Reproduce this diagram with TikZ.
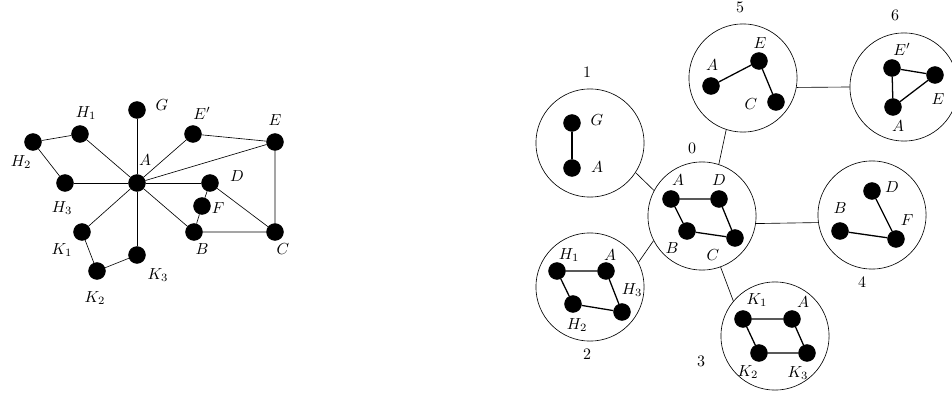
\documentclass[tikz,border=0pt]{standalone}
\usepackage{amsmath,amssymb,amsfonts}
\usepackage{tikz}
\usepackage{xcolor}

\tikzset{
  vtx/.style={draw, circle, fill=black, inner sep=0pt, minimum size=0.37cm},
  grp/.style={draw, circle, inner sep=0pt, minimum size=2.38cm},
  lbl/.style={inner sep=0pt},
  ed/.style={thick}
}

\begin{document}
\begin{tikzpicture}[x=0.022cm,y=-0.022cm]
\useasboundingbox (0,0) rectangle (952,398);

% left graph
\node[vtx] (A) at (137,183) {};
\node[vtx] (G) at (137,110) {};
\node[vtx] (H1) at (80,134) {};
\node[vtx] (H2) at (33,142) {};
\node[vtx] (H3) at (65,183) {};
\node[vtx] (Ep) at (193,134) {};
\node[vtx] (E) at (275,142) {};
\node[vtx] (D) at (210,183) {};
\node[vtx] (F) at (202,206) {};
\node[vtx] (B) at (194,232) {};
\node[vtx] (C) at (275,232) {};
\node[vtx] (K1) at (82,232) {};
\node[vtx] (K2) at (97,271) {};
\node[vtx] (K3) at (137,255) {};

\node[lbl] (lA) at (145,160) {$A$};
\node[lbl] (lG) at (162,105) {$G$};
\node[lbl] (lH1) at (86,113) {$H_1$};
\node[lbl] (lH2) at (21,162) {$H_2$};
\node[lbl] (lH3) at (62,208) {$H_3$};
\node[lbl] (lEp) at (202,113) {$E'$};
\node[lbl] (lE) at (275,120) {$E$};
\node[lbl] (lD) at (237,176) {$D$};
\node[lbl] (lF) at (218,208) {$F$};
\node[lbl] (lB) at (202,249) {$B$};
\node[lbl] (lC) at (283,249) {$C$};
\node[lbl] (lK1) at (62,250) {$K_1$};
\node[lbl] (lK2) at (95,298) {$K_2$};
\node[lbl] (lK3) at (158,275) {$K_3$};

\draw (A) -- (G);
\draw (A) -- (H1);
\draw (A) -- (H3);
\draw (A) -- (Ep);
\draw (A) -- (E);
\draw (A) -- (D);
\draw (A) -- (B);
\draw (A) -- (K1);
\draw (A) -- (K3);
\draw (H1) -- (H2) -- (H3);
\draw (K1) -- (K2) -- (K3);
\draw (Ep) -- (E) -- (C);
\draw (D) -- (F) -- (B) -- (C) -- (D);

% right tree of blocks
\node[grp] (g0) at (702,216) {};
\node[grp] (g1) at (590,143) {};
\node[grp] (g2) at (590,287) {};
\node[grp] (g3) at (775,336) {};
\node[grp] (g4) at (872,215) {};
\node[grp] (g5) at (743,78) {};
\node[grp] (g6) at (904,87) {};

\node[lbl] (n0) at (692,148) {$0$};
\node[lbl] (n1) at (587,72) {$1$};
\node[lbl] (n2) at (587,354) {$2$};
\node[lbl] (n3) at (701,361) {$3$};
\node[lbl] (n4) at (862,282) {$4$};
\node[lbl] (n5) at (740,7) {$5$};
\node[lbl] (n6) at (895,15) {$6$};

\draw (g1.-33) -- (g0.152);
\draw (g2.27) -- (g0.207);
\draw (g0.-70) -- (g3.140);
\draw (g0.-8) -- (g4.188);
\draw (g0.72) -- (g5.-108);
\draw (g5.-10) -- (g6.west);

% block 0
\node[vtx] (a0) at (671,199) {};
\node[vtx] (d0) at (719,199) {};
\node[vtx] (b0) at (687,231) {};
\node[vtx] (c0) at (735,238) {};
\node[lbl] at (678,180) {$A$};
\node[lbl] at (719,180) {$D$};
\node[lbl] at (672,248) {$B$};
\node[lbl] at (713,255) {$C$};
\draw[ed] (a0) -- (d0) -- (c0) -- (b0) -- (a0);

% block 1
\node[vtx] (g1v) at (572,123) {};
\node[vtx] (a1) at (572,168) {};
\node[lbl] at (597,120) {$G$};
\node[lbl] at (597,167) {$A$};
\draw[ed] (g1v) -- (a1);

% block 2
\node[vtx] (h12) at (557,271) {};
\node[vtx] (a2) at (606,271) {};
\node[vtx] (h22) at (573,304) {};
\node[vtx] (h32) at (622,312) {};
\node[lbl] at (569,255) {$H_1$};
\node[lbl] at (610,255) {$A$};
\node[lbl] at (632,290) {$H_3$};
\node[lbl] at (577,325) {$H_2$};
\draw[ed] (h12) -- (a2) -- (h32) -- (h22) -- (h12);

% block 3
\node[vtx] (k13) at (743,319) {};
\node[vtx] (a3) at (792,319) {};
\node[vtx] (k23) at (759,353) {};
\node[vtx] (k33) at (807,353) {};
\node[lbl] at (757,300) {$K_1$};
\node[lbl] at (803,302) {$A$};
\node[lbl] at (748,372) {$K_2$};
\node[lbl] at (798,373) {$K_3$};
\draw[ed] (k13) -- (a3) -- (k33) -- (k23) -- (k13);

% block 4
\node[vtx] (d4) at (872,191) {};
\node[vtx] (b4) at (840,231) {};
\node[vtx] (f4) at (896,239) {};
\node[lbl] at (892,187) {$D$};
\node[lbl] at (840,208) {$B$};
\node[lbl] at (907,220) {$F$};
\draw[ed] (d4) -- (f4) -- (b4);

% block 5
\node[vtx] (a5) at (711,86) {};
\node[vtx] (e5) at (759,61) {};
\node[vtx] (c5) at (776,102) {};
\node[lbl] at (712,65) {$A$};
\node[lbl] at (760,43) {$E$};
\node[lbl] at (751,104) {$C$};
\draw[ed] (a5) -- (e5) -- (c5);

% block 6
\node[vtx] (ep6) at (892,68) {};
\node[vtx] (e6) at (935,75) {};
\node[vtx] (a6) at (893,107) {};
\node[lbl] at (902,49) {$E'$};
\node[lbl] at (938,99) {$E$};
\node[lbl] at (898,126) {$A$};
\draw[ed] (ep6) -- (e6) -- (a6) -- (ep6);
\end{tikzpicture}
\end{document}
